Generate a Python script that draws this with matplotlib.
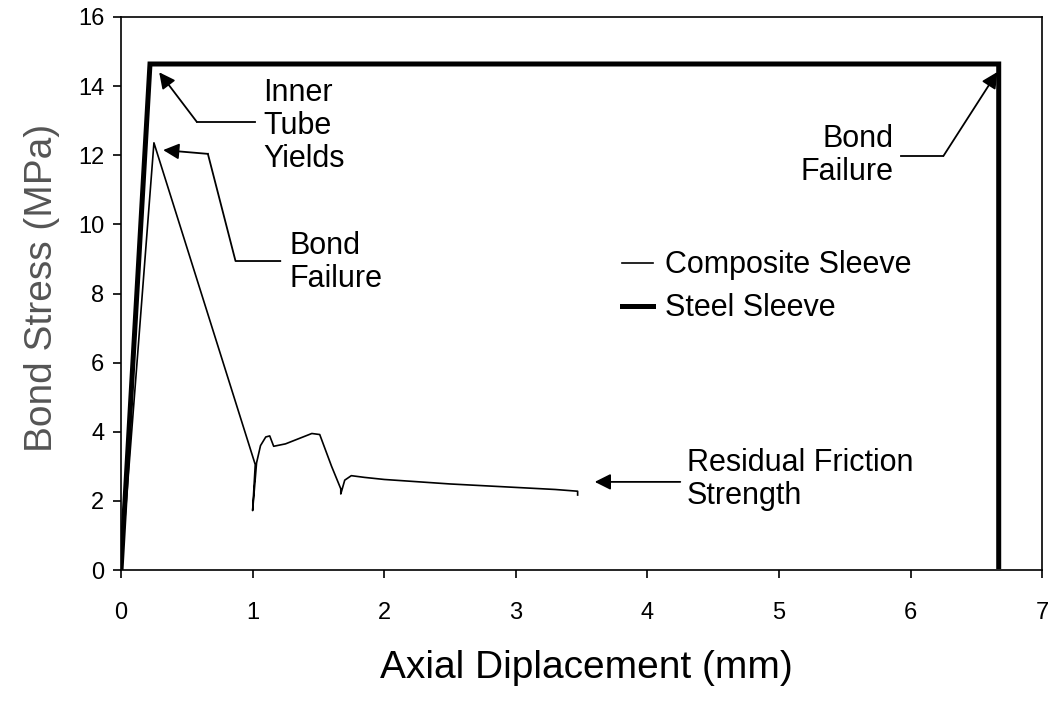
import matplotlib
matplotlib.use("Agg")
import matplotlib.pyplot as plt

# composite sleeve curve (mm, MPa)
composite_x = [0.0, 0.25, 1.02, 1.0, 1.03, 1.06, 1.10, 1.13, 1.16, 1.25, 1.35, 1.45,
               1.51, 1.60, 1.67, 1.67, 1.70, 1.75, 1.85, 2.0, 2.5, 3.0, 3.3, 3.47, 3.47]
composite_y = [0.0, 12.36, 3.05, 1.72, 3.1, 3.6, 3.85, 3.88, 3.58, 3.65, 3.8, 3.95,
               3.92, 3.0, 2.35, 2.2, 2.6, 2.73, 2.68, 2.62, 2.49, 2.39, 2.33, 2.28, 2.17]

# steel sleeve curve
steel_x = [0.0, 0.22, 6.67, 6.67]
steel_y = [0.0, 14.64, 14.64, 0.1]

x_ticks = [0, 1, 2, 3, 4, 5, 6, 7]
y_ticks = [0, 2, 4, 6, 8, 10, 12, 14, 16]

plt.rcParams['font.family'] = ['Liberation Sans', 'DejaVu Sans']

fig = plt.figure(figsize=(10.58, 7.02), dpi=100)
ax = fig.add_axes([0.1144, 0.188, 0.8706, 0.7878])

ax.plot(composite_x, composite_y, color='black', lw=1.2, label='Composite Sleeve')
ax.plot(steel_x, steel_y, color='black', lw=3.6, label='Steel Sleeve',
        solid_joinstyle='miter')

ax.set_xlim(0, 7)
ax.set_ylim(0, 16)
ax.set_xticks(x_ticks)
ax.set_yticks(y_ticks)
ax.tick_params(direction='out', length=6, width=1.2, labelsize=17)
ax.tick_params(axis='x', pad=17)
ax.tick_params(axis='y', pad=6)
for s in ax.spines.values():
    s.set_linewidth(1.2)

ax.set_xlabel('Axial Diplacement (mm)', fontsize=28)
ax.xaxis.set_label_coords(0.505, -0.145)
ax.set_ylabel('Bond Stress (MPa)', fontsize=28, color='#555555')
ax.yaxis.set_label_coords(-0.066, 0.51)

ax.legend(loc='upper left', bbox_to_anchor=(0.544, 0.578), frameon=False,
          fontsize=22, handlelength=1.0, handletextpad=0.4, labelspacing=0.42,
          borderpad=0, borderaxespad=0)

# annotations
arrow = dict(arrowstyle='-|>', color='black', lw=1.3, mutation_scale=24,
             shrinkA=0, shrinkB=0)
txt = dict(fontsize=22, va='center', linespacing=1.12)

ax.text(1.08, 12.85, 'Inner\nTube\nYields', ha='left', **txt)
ax.plot([1.02, 0.575], [12.97, 12.97], color='black', lw=1.3)
ax.annotate('', xy=(0.29, 14.4), xytext=(0.575, 12.97), arrowprops=arrow)

ax.text(1.28, 8.9, 'Bond\nFailure', ha='left', **txt)
ax.plot([1.21, 0.87, 0.66], [8.94, 8.94, 12.04], color='black', lw=1.3)
ax.annotate('', xy=(0.32, 12.15), xytext=(0.66, 12.04), arrowprops=arrow)

ax.text(5.87, 12.0, 'Bond\nFailure', ha='right', **txt)
ax.plot([5.93, 6.25], [11.98, 11.98], color='black', lw=1.3)
ax.annotate('', xy=(6.66, 14.41), xytext=(6.25, 11.98), arrowprops=arrow)

ax.text(4.30, 2.62, 'Residual Friction\nStrength', ha='left', **txt)
ax.annotate('', xy=(3.60, 2.55), xytext=(4.25, 2.55), arrowprops=arrow)

fig.savefig('out.png', dpi=100)
